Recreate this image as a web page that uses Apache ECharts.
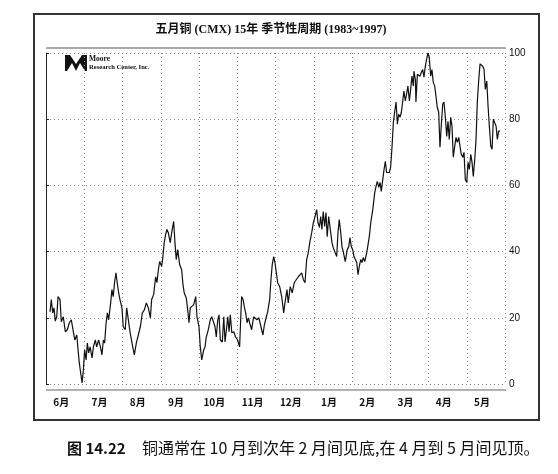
<!DOCTYPE html>
<html>
<head>
<meta charset="utf-8">
<script src="https://cdn.jsdelivr.net/npm/echarts@6/dist/echarts.min.js"></script>
<style>
html,body{margin:0;padding:0;background:#fff;}
#chart{width:558px;height:474px;}
</style>
</head>
<body>
<div id="chart"></div>
<script>
// Month labels (season runs June -> May), 21 trading days per month
const months = ['6月','7月','8月','9月','10月','11月','12月','1月','2月','3月','4月','5月'];
const yTicks = [0, 20, 40, 60, 80, 100];
const daysPerMonth = 21;

// Seasonal index, [trading day of season, index value 0..100]
const junAug = [[2.2,21.8],[2.9,25.5],[3.7,21.5],[4.4,23],[5.1,19],[5.9,20.3],[6.6,26.4],[7.7,25.5],[8.4,18.8],[9.5,20.3],[10.6,15.8],[11.7,16.4],[12.8,18.5],[13.9,19.4],[15.0,15.8],[15.8,13.3],[16.9,14.8],[17.6,10.3],[18.3,6.3],[19.1,5.8],[19.8,0.3],[20.5,4.2],[21.2,10.3],[22.0,7.3],[22.7,12.4],[23.4,9.4],[24.2,11.2],[25.3,7.9],[26.0,11.2],[27.1,13.3],[27.8,11.2],[28.9,13.3],[30.0,10.9],[30.7,8.8],[31.5,13.3],[32.2,12.4],[32.9,17.9],[33.7,21.5],[34.4,19.4],[35.5,24.5],[36.2,28.5],[36.9,26.4],[37.7,30.9],[38.4,33.6],[39.1,30.6],[39.9,27.5],[40.6,25.5],[41.7,23],[42.4,17.3],[43.5,16.4],[44.3,23],[45.0,20.3],[46.1,15.8],[47.2,12.4]];
const augOct = [[48.5,8.8],[49.6,12.4],[50.7,14.8],[51.8,17.3],[52.9,21.5],[54.0,22.4],[55.1,24.5],[56.2,23],[57.3,20],[58.0,25.5],[59.1,27],[60.2,32.4],[60.9,30.6],[61.7,34.5],[62.4,37],[63.5,35.5],[64.2,38.5],[64.9,42.7],[65.7,45.2],[66.4,46.7],[67.1,45.8],[68.2,42.7],[69.3,46.7],[70.1,49.1],[70.8,42.7],[71.5,37.6],[72.3,40.6],[73.4,36],[74.5,34.5],[75.2,30],[75.9,27.5],[77.0,26],[77.8,22.4],[78.5,18.5],[79.2,23],[80.0,22.4],[81.1,24],[82.2,26.4],[82.9,20.3],[84.0,17.3],[84.7,11.2],[85.5,7.3],[86.6,10.3],[87.3,11.2],[88.0,14.2],[89.1,16.4],[90.2,19.4],[91.0,20.3],[92.1,18.5]];
const octDec = [[92.8,17.3],[93.5,14.2],[94.3,19.4],[95.0,20.9],[95.7,13.3],[96.8,12.7],[97.6,20.3],[98.3,12.7],[99.0,12.4],[99.8,20.3],[100.5,15.8],[101.2,20.9],[102.0,15.5],[103.1,15.8],[104.1,14.2],[105.2,13.3],[106.3,11.2],[107.1,22.4],[107.4,26.4],[108.2,25.5],[108.9,23.3],[109.6,21.5],[110.4,18.5],[111.1,20],[111.8,18.5],[112.9,16.4],[114.0,20.3],[114.7,20.9],[115.8,19.4],[116.9,20],[118.0,17.3],[119.1,14.8],[119.9,17.9],[120.6,17.3],[121.7,21.8],[122.8,25.5],[123.5,31.5],[124.2,36],[125.0,38.5],[125.7,36.7],[126.4,33.9],[127.2,30.6],[128.3,29.4],[129.4,26.4],[130.5,21.5],[131.2,24.5],[132.3,28.5],[133.0,24.5],[134.1,29.4],[135.2,27.5],[136.3,30.6]];
const decFeb = [[138.5,32.4],[140.4,33.6],[141.3,31.5],[142.2,30.6],[143.1,37.6],[144.0,39.7],[144.9,43],[145.9,45.8],[146.8,48.8],[147.7,50.6],[148.6,52.7],[149.3,48.8],[150.1,47.3],[150.8,50.6],[151.5,46.7],[152.2,52.1],[153.0,47.6],[153.7,51.8],[154.4,44.5],[155.2,50.6],[156.3,45.8],[157.0,42.7],[157.7,41.2],[158.5,40.6],[159.6,38.5],[160.3,45.8],[161.0,49.7],[161.8,45.8],[162.5,41.5],[163.2,40],[164.3,37],[165.4,40.6],[166.2,41.5],[166.9,44.2],[167.6,41.5],[168.4,40.6],[169.1,38.5],[169.8,39.1],[170.6,36.7],[171.3,33],[172.0,35.5],[172.8,37.6],[173.5,36.7],[174.2,38.2],[175.0,37],[176.1,39.7],[176.8,42.1],[177.5,44.5],[178.3,48.8]];
const febMay = [[179.4,52.7],[180.5,57.9],[181.2,59.7],[181.9,61.2],[182.7,59.4],[183.4,60.9],[184.1,58.2],[184.9,61.8],[185.6,64.8],[186.3,67.3],[187.0,63.9],[187.8,63.3],[188.5,63.9],[189.2,65.5],[190.0,71.8],[190.7,79],[191.4,82.1],[192.2,85.2],[192.5,82.4],[192.9,78.5],[193.6,81.5],[194.4,80.6],[195.1,82.1],[195.8,85.2],[196.5,88.5],[197.3,85.5],[198.0,86],[198.7,90],[199.5,85.5],[200.2,89],[200.9,93],[201.7,90],[202.0,94.5],[202.8,92],[203.1,85.2],[203.9,93.6],[204.6,94.2],[205.3,93],[206.1,94.2],[206.8,95],[207.5,92.7],[208.2,95.8],[209.0,98.2],[209.7,100],[210.4,98.8],[211.2,93],[211.9,95],[212.6,91.2],[213.4,90],[214.1,87],[214.8,83.6],[215.6,82.1],[216.3,71.5],[217.0,77.9],[217.8,84.5],[218.5,85.2],[219.2,80.9],[220.0,74.8],[220.7,79.4],[221.4,73.9],[222.2,80.6],[222.9,77.9],[223.6,68.5],[224.4,71.8],[225.1,74.5],[225.8,73],[226.6,74.5],[227.3,71.8],[228.0,69.4],[228.8,68.5],[229.5,70],[230.2,61.8],[231.0,60.9],[231.7,67],[232.4,64.8],[233.2,69.4],[233.9,67],[234.6,62.7],[235.4,67.9],[236.1,73.9],[236.8,85.2],[237.6,92],[238.3,96.7],[239.0,97.3],[239.8,96],[240.5,95],[241.2,89],[242.0,91.5],[242.7,83.9],[243.4,77.9],[244.2,71.8],[244.9,70.9],[245.6,80],[246.3,79],[247.1,77.9],[247.8,73.9],[248.5,76.4],[249.3,76.4]];

const titleText = '五月铜 (CMX) 15年 季节性周期 (1983~1997)';
const captionLabel = '图 14.22';
const captionText = '铜通常在 10 月到次年 2 月间见底,在 4 月到 5 月间见顶。';

const seriesData = [].concat(junAug, augOct, octDec, decFeb, febMay);
const labelPositions = months.map((m, i) => i * daysPerMonth + 8.4);

const chart = echarts.init(document.getElementById('chart'), null, {renderer: 'canvas'});
chart.setOption({
  backgroundColor: '#fff',
  animation: false,
  grid: {left: 46, right: 53, top: 53, bottom: 90, containLabel: false},
  xAxis: {
    type: 'value',
    min: 0,
    max: months.length * daysPerMonth,
    interval: daysPerMonth,
    axisLine: {show: false},
    axisTick: {show: false},
    splitLine: {show: true, lineStyle: {color: '#8a8a8a', type: [1, 3], width: 1}},
    axisLabel: {
      customValues: labelPositions,
      formatter: (v) => months[Math.round((v - 8.4) / daysPerMonth)] || '',
      margin: 13,
      fontSize: 10,
      fontWeight: 'bold',
      color: '#111',
      fontFamily: 'Noto Sans CJK SC'
    }
  },
  yAxis: {
    type: 'value',
    position: 'right',
    min: yTicks[0],
    max: yTicks[yTicks.length - 1],
    interval: 20,
    axisLine: {show: true, lineStyle: {color: '#222', width: 1}},
    axisTick: {show: true, length: 3, lineStyle: {color: '#222'}},
    splitLine: {show: true, lineStyle: {color: '#8a8a8a', type: [1, 3], width: 1}},
    axisLabel: {margin: 4, fontSize: 10, color: '#111', fontFamily: 'Liberation Sans'}
  },
  series: [{
    type: 'line',
    data: seriesData,
    showSymbol: false,
    symbol: 'none',
    lineStyle: {color: '#111', width: 1.2},
    z: 5
  }],
  graphic: [
    {type: 'rect', shape: {x: 34, y: 14, width: 505, height: 406}, style: {fill: 'none', stroke: '#333', lineWidth: 2}, silent: true},
    {type: 'line', shape: {x1: 46, y1: 48, x2: 506, y2: 48}, style: {stroke: '#555', lineWidth: 1}, silent: true},
    {type: 'line', shape: {x1: 46, y1: 390, x2: 506, y2: 390}, style: {stroke: '#999', lineWidth: 1.5}, silent: true},
    {type: 'text', x: 271, y: 30, style: {text: titleText, align: 'center', verticalAlign: 'middle', fontSize: 12, fontWeight: 'bold', fontFamily: '"Liberation Serif", "Noto Sans CJK SC"', fill: '#111'}, silent: true},
    // Moore Research logo
    {type: 'rect', shape: {x: 65, y: 55, width: 22, height: 16}, style: {fill: '#111'}, silent: true},
    {type: 'polygon', shape: {points: [[70, 55], [82, 55], [76, 64]]}, style: {fill: '#fff'}, silent: true},
    {type: 'polygon', shape: {points: [[67, 71], [72, 63], [76, 71]]}, style: {fill: '#fff'}, silent: true},
    {type: 'polygon', shape: {points: [[76, 71], [80, 63], [85, 71]]}, style: {fill: '#fff'}, silent: true},
    {type: 'text', x: 89, y: 59, style: {text: 'Moore', verticalAlign: 'middle', fontSize: 7.5, fontWeight: 'bold', fontFamily: '"Liberation Serif"', fill: '#111'}, silent: true},
    {type: 'text', x: 89, y: 67, style: {text: 'Research Center, Inc.', verticalAlign: 'middle', fontSize: 6.6, fontWeight: 'bold', fontFamily: '"Liberation Serif"', fill: '#111'}, silent: true},
    // caption
    {type: 'text', x: 67, y: 448, style: {text: captionLabel, verticalAlign: 'middle', fontSize: 15, fontWeight: 'bold', fontFamily: '"Noto Sans CJK SC"', fill: '#111'}, silent: true},
    {type: 'text', x: 142, y: 448, style: {text: captionText, verticalAlign: 'middle', fontSize: 16, fontFamily: '"Noto Sans CJK SC"', fill: '#111'}, silent: true}
  ]
});
</script>
</body>
</html>
